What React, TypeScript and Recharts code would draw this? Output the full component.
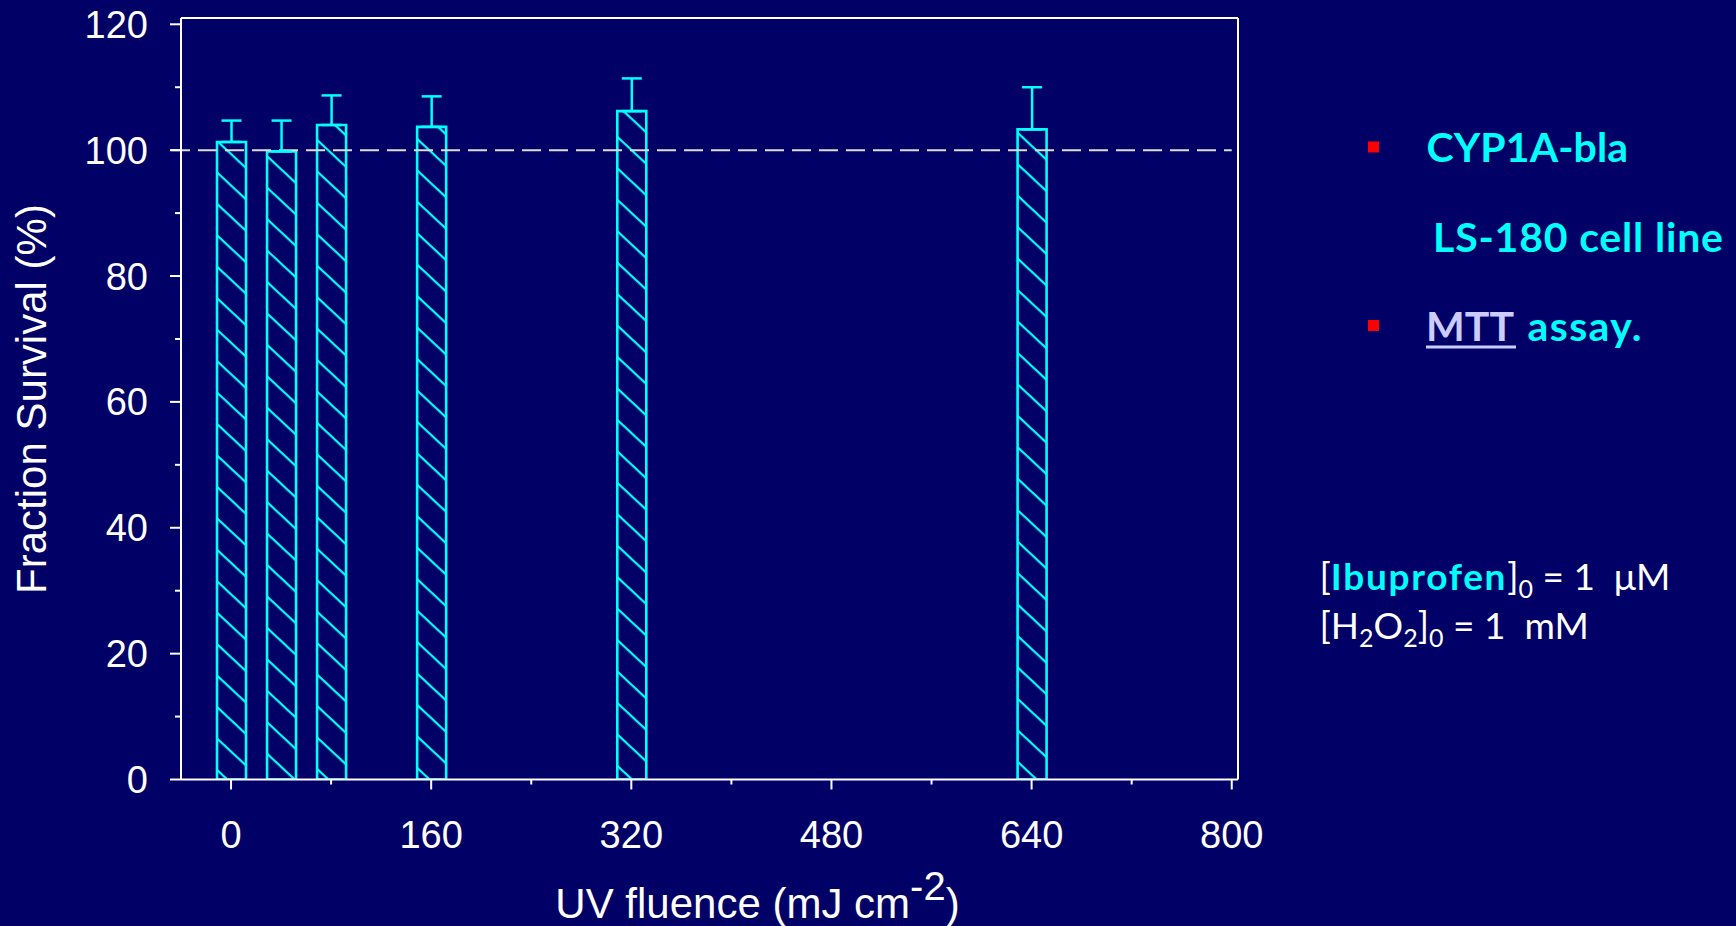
import React from "react";
import { ComposedChart, Bar, ErrorBar, XAxis, YAxis, ReferenceLine, Label } from "recharts";

// UV fluence (mJ cm-2) and fraction survival (%) with upper error
const fluence = [0, 40, 80, 160, 320, 640];
const survival = [101.3, 99.8, 104.0, 103.7, 106.2, 103.3];
const survivalErr = [3.4, 4.9, 4.7, 4.85, 5.2, 6.7];

const xTicks = [0, 80, 160, 240, 320, 400, 480, 560, 640, 720, 800];
const yTicks = [0, 10, 20, 30, 40, 50, 60, 70, 80, 90, 100, 110, 120];

const BG = "#000066";
const CYAN = "#00FFFF";
const WHITE = "#FFFFFF";
const AXIS_FONT = "'Liberation Sans', Arial, sans-serif";
const NOTE_FONT = "Lato, 'Open Sans', sans-serif";

const data = fluence.map((f, i) => ({
  fluence: f,
  survival: survival[i],
  err: [0, survivalErr[i]],
}));

const YTick = (props: any) => {
  const { x, y, payload } = props;
  const major = payload.value % 20 === 0;
  return (
    <g>
      <line x1={x - (major ? 11 : 6)} x2={x} y1={y} y2={y} stroke={WHITE} strokeWidth={2} />
      {major && (
        <text x={x - 33} y={y} dy={13.5} textAnchor="end" fill={WHITE} fontSize={38} fontFamily={AXIS_FONT}>
          {payload.value}
        </text>
      )}
    </g>
  );
};

const XTick = (props: any) => {
  const { x, y, payload } = props;
  const major = payload.value % 160 === 0;
  return (
    <g>
      <line x1={x} x2={x} y1={y} y2={y + (major ? 10 : 5)} stroke={WHITE} strokeWidth={2} />
      {major && (
        <text x={x} y={y + 68.5} textAnchor="middle" fill={WHITE} fontSize={38} fontFamily={AXIS_FONT}>
          {payload.value}
        </text>
      )}
    </g>
  );
};

const XTitle = (props: any) => {
  const vb = props.viewBox || { x: 0, width: 0, y: 0 };
  const cx = vb.x + vb.width / 2 + 48;
  return (
    <text x={cx} y={918} textAnchor="middle" fill={WHITE} fontSize={42} fontFamily={AXIS_FONT}>
      UV fluence (mJ cm
      <tspan dy={-17.6} fontSize={40}>-2</tspan>
      <tspan dy={17.6}>)</tspan>
    </text>
  );
};

const YTitle = () => (
  <text
    x={46}
    y={399}
    transform="rotate(-90 46 399)"
    textAnchor="middle"
    fill={WHITE}
    fontSize={42}
    fontFamily={AXIS_FONT}
  >
    Fraction Survival (%)
  </text>
);

export default function App() {
  return (
    <div style={{ position: "absolute", left: 0, top: 0, width: 1736, height: 926, background: BG, overflow: "hidden" }}>
      <svg width={0} height={0} style={{ position: "absolute" }}>
        <defs>
          <pattern id="hatch" patternUnits="userSpaceOnUse" width={10} height={23} patternTransform="rotate(43)">
            <rect x={0} y={0} width={10} height={2.2} fill={CYAN} />
          </pattern>
        </defs>
      </svg>
      <ComposedChart
        width={1736}
        height={926}
        data={data}
        margin={{ top: 18, right: 498, bottom: 86.5, left: 81 }}
      >
        <XAxis
          dataKey="fluence"
          type="number"
          domain={[-40, 805]}
          ticks={xTicks}
          interval={0}
          allowDataOverflow
          height={60}
          tickSize={0}
          tickMargin={0}
          tickLine={false}
          axisLine={{ stroke: WHITE, strokeWidth: 2 }}
          tick={<XTick />}
        >
          <Label content={<XTitle />} />
        </XAxis>
        <YAxis
          type="number"
          domain={[0, 121]}
          ticks={yTicks}
          interval={0}
          allowDataOverflow
          width={100}
          tickSize={0}
          tickMargin={0}
          tickLine={false}
          axisLine={{ stroke: WHITE, strokeWidth: 2 }}
          tick={<YTick />}
        >
          <Label content={<YTitle />} />
        </YAxis>
        <ReferenceLine y={121} stroke={WHITE} strokeWidth={2} />
        <ReferenceLine x={805} stroke={WHITE} strokeWidth={2} />
        <ReferenceLine
          segment={[{ x: -48, y: 100 }, { x: 800, y: 100 }]}
          ifOverflow="visible"
          stroke="#DDDDDD"
          strokeWidth={2}
          strokeDasharray="19 8"
        />
        <Bar
          dataKey="survival"
          barSize={29}
          fill="url(#hatch)"
          stroke={CYAN}
          strokeWidth={2.6}
          isAnimationActive={false}
        >
          <ErrorBar dataKey="err" direction="y" width={10} stroke={CYAN} strokeWidth={2.5} />
        </Bar>
      </ComposedChart>

      <svg
        width={1736}
        height={926}
        style={{ position: "absolute", left: 0, top: 0, pointerEvents: "none" }}
      >
        <rect x={1368} y={141.5} width={11} height={11} fill="#FF0000" />
        <text x={1426.5} y={161.7} fill={CYAN} fontSize={41} fontWeight="bold" fontFamily={NOTE_FONT} textLength={201.5}>
          CYP1A-bla
        </text>
        <text x={1433} y={251.7} fill={CYAN} fontSize={41} fontWeight="bold" fontFamily={NOTE_FONT} textLength={290}>
          LS-180 cell line
        </text>
        <rect x={1368} y={320} width={11} height={11} fill="#FF0000" />
        <text x={1426} y={340.5} fill="#CCCCFF" fontSize={41} fontWeight="bold" fontFamily={NOTE_FONT} textLength={88}>
          MTT
        </text>
        <rect x={1426} y={345.5} width={90} height={3} fill="#CCCCFF" />
        <text x={1527.5} y={340.5} fill={CYAN} fontSize={41} fontWeight="bold" fontFamily={NOTE_FONT} textLength={114}>
          assay.
        </text>

        <text x={1319.5} y={590} fill={WHITE} fontSize={37} fontFamily={NOTE_FONT} style={{ whiteSpace: "pre" }}>
          [<tspan fill={CYAN} fontWeight="bold" letterSpacing={1.7}>Ibuprofen</tspan>]
          <tspan fontSize={25} dy={8}>0</tspan>
          <tspan dy={-8}>{" = 1  \u03BCM"}</tspan>
        </text>
        <text x={1319.5} y={639} fill={WHITE} fontSize={37} fontFamily={NOTE_FONT} style={{ whiteSpace: "pre" }}>
          [H<tspan fontSize={25} dy={8}>2</tspan>
          <tspan dy={-8}>O</tspan>
          <tspan fontSize={25} dy={8}>2</tspan>
          <tspan dy={-8}>]</tspan>
          <tspan fontSize={25} dy={8}>0</tspan>
          <tspan dy={-8}>{" = 1  mM"}</tspan>
        </text>
      </svg>
    </div>
  );
}
